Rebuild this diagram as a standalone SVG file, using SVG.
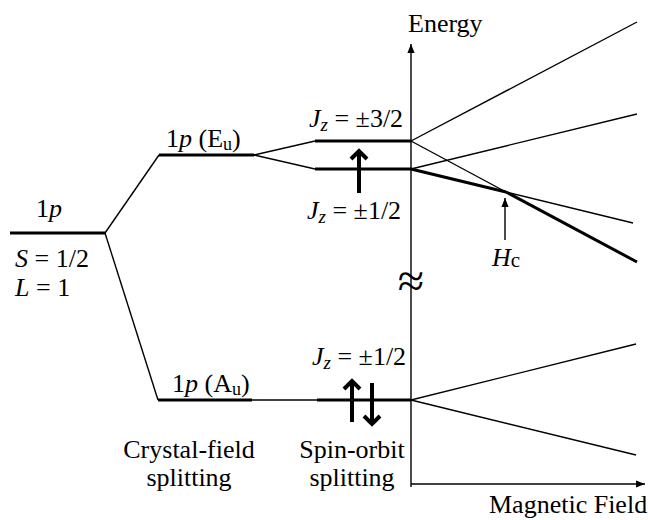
<svg xmlns="http://www.w3.org/2000/svg" width="648" height="520" viewBox="0 0 648 520">
<defs>
<style>
.t{font-family:"Liberation Serif","Times New Roman",serif;font-size:26px;fill:#000}
.i{font-style:italic}
.thin{stroke:#000;stroke-width:1.4;fill:none}
.thick{stroke:#000;stroke-width:3;fill:none}
.spin{stroke:#000;stroke-width:4;fill:none;stroke-linecap:butt}
</style>
<marker id="ah" viewBox="0 0 10 10" refX="10" refY="5" markerWidth="9" markerHeight="9" markerUnits="userSpaceOnUse" orient="auto">
<path d="M0,1 L10,5 L0,9 z" fill="#000"/>
</marker>
</defs>
<rect width="648" height="520" fill="#fff"/>

<g id="connectors">
<path class="thin" d="M105,233 L159,155"/>
<path class="thin" d="M105,233 L158,400"/>
<path class="thin" d="M254,155 L315,141"/>
<path class="thin" d="M254,155 L315,169"/>
<path class="thin" d="M252,400 L317,400"/>
<path class="thin" d="M411,141 L637,22"/>
<path class="thin" d="M411,169 L637,114"/>
<path class="thin" d="M411,141 L506,192"/>
<path class="thick" d="M506,192 L637,262"/>
<path class="thick" d="M411,169 L506,192"/>
<path class="thin" d="M506,192 L633,223"/>
<path class="thin" d="M411,400 L636,344"/>
<path class="thin" d="M411,400 L636,455"/>
</g>

<g id="axes">
<path class="thin" d="M411,487 L411,44" marker-end="url(#ah)"/>
<path class="thin" d="M411,484 L645,484" marker-end="url(#ah)"/>
<text class="t" x="408" y="32">Energy</text>
<text class="t" x="489" y="513">Magnetic Field</text>
<text x="411" y="297" text-anchor="middle" style="font-family:'Liberation Serif',serif;font-size:48px">≈</text>
</g>

<g id="level-1p">
<path class="thick" d="M10,233 L105,233"/>
<text class="t" x="36" y="217">1<tspan class="i">p</tspan></text>
<text class="t" x="15" y="267"><tspan class="i">S</tspan> = 1/2</text>
<text class="t" x="15" y="296"><tspan class="i">L</tspan> = 1</text>
</g>

<g id="level-Eu">
<path class="thick" d="M159,155 L254,155"/>
<text class="t" x="166" y="147">1<tspan class="i">p</tspan> (E<tspan font-size="18" dy="3">u</tspan><tspan dy="-3">)</tspan></text>
</g>

<g id="level-Au">
<path class="thick" d="M158,400 L252,400"/>
<text class="t" x="172" y="392">1<tspan class="i">p</tspan> (A<tspan font-size="18" dy="3">u</tspan><tspan dy="-3">)</tspan></text>
</g>

<g id="level-Jz32">
<path class="thick" d="M315,141 L411,141"/>
<text class="t" x="309" y="127"><tspan class="i">J</tspan><tspan class="i" font-size="19" dy="4">z</tspan><tspan dy="-4"> = ±3/2</tspan></text>
</g>

<g id="level-Jz12-upper">
<path class="thick" d="M315,169 L411,169"/>
<path class="spin" d="M359,193 L359,151 M351,159 L359,151 L367,159"/>
<text class="t" x="307" y="219"><tspan class="i">J</tspan><tspan class="i" font-size="19" dy="4">z</tspan><tspan dy="-4"> = ±1/2</tspan></text>
</g>

<g id="level-Jz12-lower">
<path class="thick" d="M317,400 L411,400"/>
<path class="spin" d="M352,422 L352,381 M344,389 L352,381 L360,389"/>
<path class="spin" d="M372,383 L372,424 M364,416 L372,424 L380,416"/>
<text class="t" x="312" y="365"><tspan class="i">J</tspan><tspan class="i" font-size="19" dy="4">z</tspan><tspan dy="-4"> = ±1/2</tspan></text>
</g>

<g id="Hc">
<path class="thin" d="M505,240 L505,198" marker-end="url(#ah)"/>
<text class="t" x="492" y="266"><tspan class="i">H</tspan><tspan font-size="21" dy="1">c</tspan></text>
</g>

<g id="labels">
<text class="t" x="189" y="458" text-anchor="middle">Crystal-field</text>
<text class="t" x="189" y="486" text-anchor="middle">splitting</text>
<text class="t" x="352" y="458" text-anchor="middle">Spin-orbit</text>
<text class="t" x="352" y="486" text-anchor="middle">splitting</text>
</g>
</svg>
